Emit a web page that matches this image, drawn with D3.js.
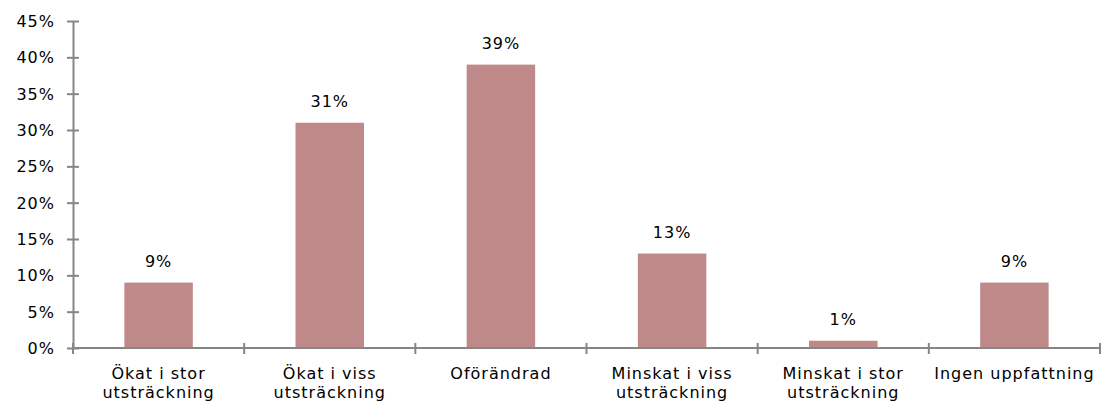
<!DOCTYPE html>
<html>
<head>
<meta charset="utf-8">
<script src="https://cdn.jsdelivr.net/npm/d3@7"></script>
<style>
  body { margin: 0; background: #fff; }
  svg text { font-family: "DejaVu Sans", Verdana, sans-serif; font-size: 16px; letter-spacing: 1px; fill: #000; }
</style>
</head>
<body>
<svg id="chart" width="1101" height="405"></svg>
<script>
var categories = [["Ökat i stor", "utsträckning"], ["Ökat i viss", "utsträckning"], ["Oförändrad"],
                  ["Minskat i viss", "utsträckning"], ["Minskat i stor", "utsträckning"], ["Ingen uppfattning"]];
var values = [9, 31, 39, 13, 1, 9];
var yTicks = [0, 5, 10, 15, 20, 25, 30, 35, 40, 45];

var margin = {top: 21, right: 1, bottom: 57, left: 73},
    width = 1101 - margin.left - margin.right,
    height = 405 - margin.top - margin.bottom;

var axisColor = "#868686";

var svg = d3.select("#chart")
    .append("g")
    .attr("transform", "translate(" + margin.left + "," + margin.top + ")");

var x = d3.scaleBand()
    .domain(d3.range(categories.length))
    .range([0, width])
    .padding(0);
var y = d3.scaleLinear()
    .domain([0, 45])
    .range([height, 0]);

var barW = x.bandwidth() * 0.4;

// bars
svg.selectAll(".bar")
    .data(values)
    .enter().append("rect")
    .attr("class", "bar")
    .attr("x", function(d, i) { return x(i) + (x.bandwidth() - barW) / 2; })
    .attr("width", barW)
    .attr("y", function(d) { return y(d); })
    .attr("height", function(d) { return height - y(d); })
    .attr("fill", "#c08989");

// value labels
svg.selectAll(".val")
    .data(values)
    .enter().append("text")
    .attr("x", function(d, i) { return x(i) + x.bandwidth() / 2; })
    .attr("y", function(d) { return y(d) - 16; })
    .attr("text-anchor", "middle")
    .text(function(d) { return d + "%"; });

// y axis
var yAxis = svg.append("g")
    .call(d3.axisLeft(y).tickValues(yTicks).tickSize(0).tickPadding(18)
        .tickFormat(function(d) { return d + "%"; }));
yAxis.select(".domain").attr("stroke", axisColor).attr("stroke-width", 2);
yAxis.selectAll(".tick text").attr("dy", "0.35em").style("font-size", "16px");
yAxis.selectAll(".tick").append("line")
    .attr("x1", -6).attr("x2", 6)
    .attr("stroke", axisColor).attr("stroke-width", 2);

// x axis
var xAxis = svg.append("g")
    .attr("transform", "translate(0," + height + ")");
xAxis.append("line")
    .attr("x1", 0).attr("x2", width)
    .attr("stroke", axisColor).attr("stroke-width", 2);
xAxis.selectAll(".xt")
    .data(d3.range(categories.length + 1))
    .enter().append("line")
    .attr("x1", function(i) { return i * x.step(); })
    .attr("x2", function(i) { return i * x.step(); })
    .attr("y1", -5).attr("y2", 6)
    .attr("stroke", axisColor).attr("stroke-width", 2);

var labels = xAxis.selectAll(".xl")
    .data(categories)
    .enter().append("text")
    .attr("text-anchor", "middle")
    .attr("transform", function(d, i) { return "translate(" + (x(i) + x.bandwidth() / 2) + ",31)"; });
labels.selectAll("tspan")
    .data(function(d) { return d; })
    .enter().append("tspan")
    .attr("x", 0)
    .attr("dy", function(d, j) { return j === 0 ? 0 : 19; })
    .text(function(d) { return d; });
</script>
</body>
</html>
